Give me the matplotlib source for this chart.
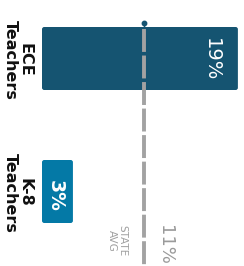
import matplotlib
matplotlib.use("Agg")
import matplotlib.pyplot as plt
from matplotlib.patches import FancyBboxPatch

plt.rcParams["lines.scale_dashes"] = False

categories = ["ECE\nTeachers", "K-8\nTeachers"]
values = [19, 3]
value_labels = ["19%", "3%"]
bar_colors = ["#155471", "#0479a6"]
state_avg_pos = 9.9      # where the reference line is drawn
state_avg_label = "11%"

W, H = 244, 266
fig = plt.figure(figsize=(W / 100, H / 100), dpi=100)
ax = fig.add_axes([0, 0, 1, 1])
ax.set_axis_off()

ppx = 10.31          # pixels per percent
x0 = 42              # pixel of zero
ax.set_xlim(-x0 / ppx, (W - x0) / ppx)
ppy = 133.0
ax.set_ylim(1 + (H - 191.5) / ppy, -58.5 / ppy)

def px(p):
    return (p - x0) / ppx

def py(p):
    return (p - 58.5) / ppy

bars = ax.barh(range(len(values)), values, height=63 / ppy, color=bar_colors)
for b, c in zip(bars, bar_colors):
    x, y, w, h = b.get_x(), b.get_y(), b.get_width(), b.get_height()
    b.set_visible(False)
    fp = FancyBboxPatch((x, y), w, h,
                        boxstyle="round,pad=0,rounding_size=0.22",
                        mutation_aspect=ppx / ppy,
                        facecolor=c, edgecolor="none", zorder=2)
    ax.add_patch(fp)

# state average line
ax.plot([state_avg_pos, state_avg_pos], [py(23), py(100)], color="#155471",
        lw=1.0, zorder=3, solid_capstyle="butt")
ax.plot([state_avg_pos], [py(23)], "o", color="#155471", ms=3.2, zorder=4)
ax.plot([state_avg_pos, state_avg_pos], [py(29), py(270)], color="#a2a2a2",
        lw=2.8, zorder=5, linestyle=(0, (16.5, 2.6)), dash_capstyle="butt")

# category labels
for i, cat in enumerate(categories):
    ax.text(px(17.5), i + 0.01, cat, rotation=-90, ha="center", va="center",
            multialignment="center", fontsize=11.5, fontweight="bold",
            color="#111111", linespacing=0.95, zorder=6)

# value labels inside bars
label_px = [211, 55]
for i, (lab, lp) in enumerate(zip(value_labels, label_px)):
    ax.text(px(lp), i + (0.01 if i == 0 else 0.03), lab, rotation=-90,
            ha="center", va="center", fontsize=14 if i == 0 else 13.5,
            color="white", fontweight="normal" if i == 0 else "bold", zorder=6)

# state avg labels
ax.text(px(117), py(241), "STATE\nAVG", rotation=-90, ha="center",
        va="center", multialignment="center", fontsize=7.5, color="#a0a0a0",
        linespacing=1.1, zorder=6)
ax.text(px(165), py(245), state_avg_label, rotation=-90, ha="center",
        va="center", fontsize=13, color="#9a9a9a", zorder=6)

fig.savefig("out.png", dpi=100, facecolor="white")
